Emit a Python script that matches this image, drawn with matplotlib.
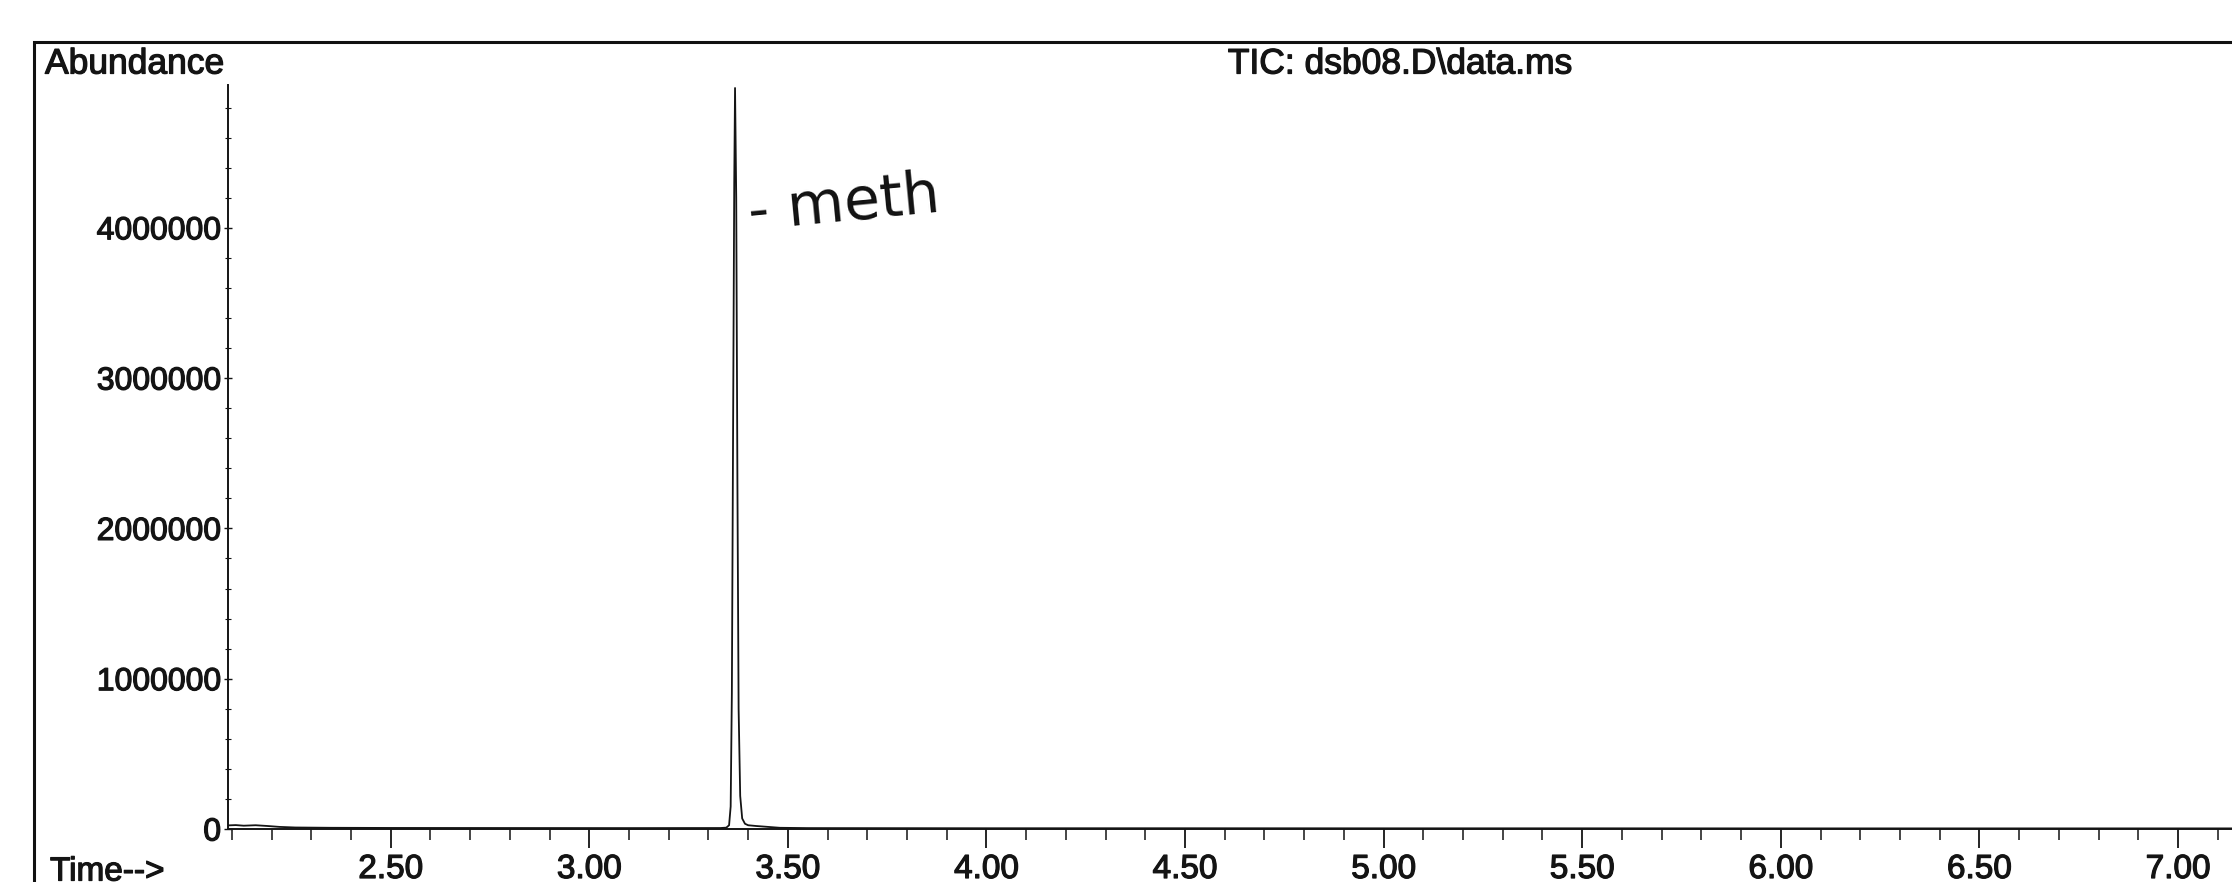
import matplotlib.pyplot as plt
import matplotlib.patheffects as pe
from matplotlib.patches import Rectangle
from matplotlib.ticker import MultipleLocator

plt.rcParams['font.family'] = ['Liberation Sans', 'DejaVu Sans']

# TIC trace (time in min, abundance in counts)
time_min = [2.09, 2.11, 2.13, 2.16, 2.19, 2.22, 2.26, 2.35, 2.50, 2.80, 3.10, 3.33,
            3.345, 3.352, 3.356, 3.359, 3.362, 3.365, 3.367, 3.370, 3.373,
            3.376, 3.380, 3.385, 3.392, 3.400, 3.420, 3.450, 3.480, 3.550,
            4.00, 4.50, 5.00, 5.50, 6.00, 6.50, 7.00, 7.15]
abundance = [24000, 26000, 22000, 25000, 20000, 14000, 10000, 8000, 7000, 6500, 6000, 6500,
             9000, 25000, 150000, 900000, 2600000, 4300000, 4930000, 4200000, 2300000,
             800000, 220000, 70000, 35000, 25000, 20000, 14000, 8000, 6000,
             5000, 5000, 4500, 4500, 4000, 4000, 4000, 4000]

x_ticks = [2.5, 3.0, 3.5, 4.0, 4.5, 5.0, 5.5, 6.0, 6.5, 7.0]
x_labels = ['2.50', '3.00', '3.50', '4.00', '4.50', '5.00', '5.50', '6.00', '6.50', '7.00']
y_ticks = [0, 1000000, 2000000, 3000000, 4000000]
y_labels = ['0', '1000000', '2000000', '3000000', '4000000']

ink = '#141414'
bold_scan = [pe.withStroke(linewidth=0.9, foreground=ink)]

fig = plt.figure(figsize=(22.32, 8.82), dpi=100)
ax = fig.add_axes([228 / 2232, 53 / 882, (2232 - 228) / 2232, (797 - 53) / 882])
ax.plot(time_min, abundance, color=ink, lw=1.3)

ax.set_xlim(2.0904, 7.136)
ax.set_ylim(0, 4.95e6)

ax.set_xticks(x_ticks)
ax.set_xticklabels(x_labels)
ax.set_yticks(y_ticks)
ax.set_yticklabels(y_labels)
ax.xaxis.set_minor_locator(MultipleLocator(0.1))
ax.yaxis.set_minor_locator(MultipleLocator(200000))

ax.tick_params(axis='x', which='major', direction='out', length=14, width=1.3,
               labelsize=24, pad=4, colors=ink)
ax.tick_params(axis='x', which='minor', direction='out', length=8, width=1.1, colors=ink)
ax.tick_params(axis='y', which='major', direction='inout', length=6, width=1.0,
               labelsize=23, pad=2, colors=ink)
ax.tick_params(axis='y', which='minor', direction='inout', length=4, width=0.8, colors=ink)
for lbl in ax.get_xticklabels() + ax.get_yticklabels():
    lbl.set_path_effects(bold_scan)

for side in ['top', 'right']:
    ax.spines[side].set_visible(False)
for side in ['left', 'bottom']:
    ax.spines[side].set_color(ink)
    ax.spines[side].set_linewidth(1.4)

# printout header texts
fig.text(45 / 2232, 1 - 64 / 882, 'Abundance', fontsize=25.5, color=ink, va='center',
         ha='left', path_effects=bold_scan)
fig.text(1400 / 2232, 1 - 64 / 882, 'TIC: dsb08.D\\data.ms', fontsize=25.5, color=ink,
         va='center', ha='center', path_effects=bold_scan)
fig.text(50 / 2232, 1 - 872 / 882, 'Time-->', fontsize=24, color=ink, va='center',
         ha='left', path_effects=bold_scan)

# handwritten note next to the peak
ax.text(3.4046, 3.987e6, '- meth', fontsize=42, color='#111111', rotation=5.5,
        rotation_mode='anchor', ha='left', va='baseline',
        family=['DejaVu Sans'])

# outer frame of the scanned page
fig.patches.append(Rectangle((34 / 2232, -0.1), 1.2, 1 - 42 / 882 + 0.1,
                             transform=fig.transFigure, fill=False,
                             edgecolor='#111111', lw=2.2))

fig.savefig('out.png', dpi=100)
